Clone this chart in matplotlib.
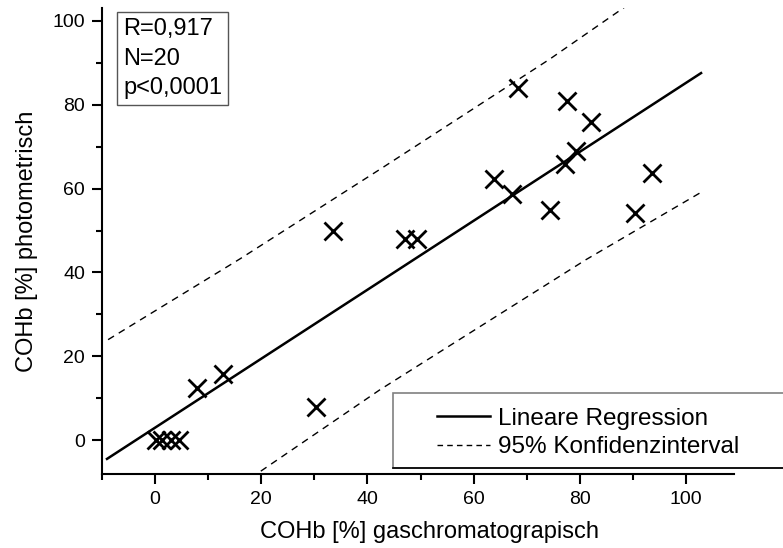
import numpy as np
import matplotlib.pyplot as plt
from matplotlib.lines import Line2D
from matplotlib.patches import Rectangle
from matplotlib.ticker import MultipleLocator

plt.rcParams['font.family'] = ['Liberation Sans', 'DejaVu Sans']

# Messwerte (gaschromatographisch vs. photometrisch)
cohb_gc = [0.2, 1.4, 3.0, 4.5, 7.9, 12.9, 30.4, 33.6, 47.1, 49.3,
           63.9, 67.3, 68.3, 74.4, 77.1, 77.6, 79.3, 82.1, 90.4, 93.6]
cohb_photo = [0, 0, 0, 0, 12.5, 15.9, 8.0, 50.0, 47.9, 47.9,
              62.2, 58.6, 83.9, 55.0, 65.8, 80.8, 68.9, 75.8, 54.1, 63.8]

# Regressionsgerade und 95%-Band
reg_x = [-9.0, 102.8]
reg_y = [-4.4, 87.5]
upper_x = [-8.8, 16.1, 42.4, 74.3, 90.0]
upper_y = [24.0, 43.3, 64.6, 90.8, 104.6]
lower_x = [18.0, 42.4, 81.2, 102.8]
lower_y = [-9.0, 12.1, 43.1, 59.1]

stats_text = "R=0,917\nN=20\np<0,0001"
legend_labels = ["Lineare Regression", "95% Konfidenzinterval"]

W, H = 783, 548
fig = plt.figure(figsize=(W / 100, H / 100), dpi=100)
ax = fig.add_axes([101.7 / W, 1 - 474 / H, (734 - 101.7) / W, (474 - 8) / H])

ax.plot(cohb_gc, cohb_photo, 'x', color='black', markersize=13, markeredgewidth=2)
ax.plot(reg_x, reg_y, color='black', lw=1.8)
ax.plot(upper_x, upper_y, color='black', lw=1.0, ls=(0, (5, 4)))
ax.plot(lower_x, lower_y, color='black', lw=1.0, ls=(0, (5, 4)))

ax.set_xlim(-10, 109)
ax.set_ylim(-8, 103)
ax.xaxis.set_major_locator(MultipleLocator(20))
ax.xaxis.set_minor_locator(MultipleLocator(10))
ax.yaxis.set_major_locator(MultipleLocator(20))
ax.yaxis.set_minor_locator(MultipleLocator(10))

for s in ['top', 'right']:
    ax.spines[s].set_visible(False)
for s in ['left', 'bottom']:
    ax.spines[s].set_linewidth(1.5)
ax.tick_params(which='major', direction='out', length=7, width=1.5, labelsize=14, pad=5)
ax.tick_params(which='minor', direction='out', length=4.5, width=1.5)

ax.set_xlabel("COHb [%] gaschromatograpisch", fontsize=17)
ax.set_ylabel("COHb [%] photometrisch", fontsize=17)
ax.xaxis.set_label_coords(0.519, -0.1)
ax.yaxis.set_label_coords(-0.1, 0.5)

ax.text(123 / W, 1 - 18 / H, stats_text, transform=fig.transFigure, fontsize=17,
        va='top', ha='left', linespacing=1.45,
        bbox=dict(boxstyle='square,pad=0.25', facecolor='white', edgecolor='#555555', lw=1))

# Legendenrahmen
box = Rectangle((393 / W, 1 - 468 / H), (W - 393 + 10) / W, 75 / H, transform=fig.transFigure,
                facecolor='white', edgecolor='#808080', lw=1.2, zorder=4)
fig.add_artist(box)
fig.add_artist(Line2D([393 / W, 1], [1 - 468 / H] * 2, transform=fig.transFigure,
                      color='black', lw=1.2, zorder=4))

handles = [Line2D([], [], color='black', lw=1.8),
           Line2D([], [], color='black', lw=1.0, ls=(0, (4, 3)))]
fig.legend(handles, legend_labels, loc='center left', bbox_to_anchor=(415 / W, 1 - 433 / H),
           bbox_transform=fig.transFigure, frameon=False, fontsize=17.5,
           handlelength=2.2, handletextpad=0.3, labelspacing=0.25).set_zorder(5)

fig.savefig('out.png', dpi=100)
